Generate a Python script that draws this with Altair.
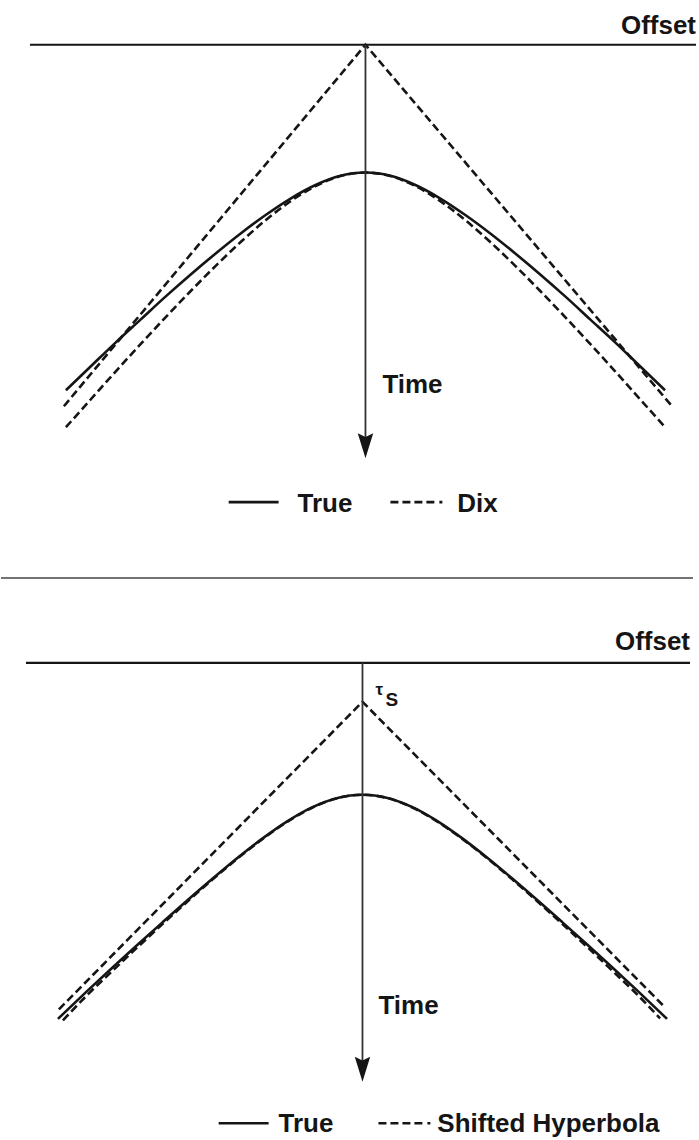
import altair as alt
import pandas as pd

INK = "#151515"
FONT = "Liberation Sans"
DASH = [8, 4]
KEY_DASH = [8, 4, 8, 4, 8, 4, 8, 5, 3, 40]

# ---------------- upper figure: true moveout vs. Dix hyperbola ----------------
top_offsets = [-300, -275, -250, -225, -200, -175, -150, -125, -100, -75, -50, -25,
               0, 25, 50, 75, 100, 125, 150, 175, 200, 225, 250, 275, 300]
top_true = [346, 322, 298, 275, 252, 230, 209, 189, 170.5, 154, 140.5, 131.3,
            128, 131.3, 140.5, 154, 170.5, 189, 209, 230, 252, 275, 298, 322, 346]
top_dix = [383, 355, 327, 299.6, 272.7, 246.6, 221.4, 197.6, 175.7, 156.7, 141.5, 131.5,
           128, 131.5, 141.5, 156.7, 175.7, 197.6, 221.4, 246.6, 272.7, 299.6, 327, 355, 383]
top_asym_offsets = [-302, 0, 307]
top_asym_times = [362, 0, 362]

# ---------------- lower figure: true moveout vs. shifted hyperbola ----------------
bot_true_offsets = [-305, -275, -250, -225, -200, -175, -150, -125, -100, -75, -50, -25,
                    0, 25, 50, 75, 100, 125, 150, 175, 200, 225, 250, 275, 305]
bot_true = [356.5, 328, 304.8, 282, 259.6, 237.5, 216, 195.2, 175.8, 158.5, 144.5, 135.3,
            132, 135.3, 144.5, 158.5, 175.8, 195.2, 216, 237.5, 259.6, 282, 304.8, 328, 356.5]
bot_shift_offsets = [-300, -275, -250, -225, -200, -175, -150, -125, -100, -75, -50, -25,
                     0, 25, 50, 75, 100, 125, 150, 175, 200, 225, 250, 275, 298]
bot_shift = [358, 332, 308.1, 284.5, 261.4, 238.7, 216.8, 195.8, 176.3, 158.9, 144.8, 135.4,
             132, 135.4, 144.8, 158.9, 176.3, 195.8, 216.8, 238.7, 261.4, 284.5, 308.1, 332, 356]
bot_asym_offsets = [-304, 0, 303]
bot_asym_times = [347, 39, 345]
tau_s = 39


def scales(xdom, ydom):
    xs = alt.Scale(domain=xdom, nice=False, zero=False)
    ys = alt.Scale(domain=ydom, nice=False, zero=False, reverse=True)
    return xs, ys


def curve(offsets, times, xs, ys, dash=None, width=2.5, interp="monotone"):
    df = pd.DataFrame({"offset": offsets, "time": times})
    kw = dict(color=INK, strokeWidth=width, interpolate=interp)
    if dash:
        kw["strokeDash"] = dash
    return alt.Chart(df).mark_line(**kw).encode(
        x=alt.X("offset:Q", scale=xs, axis=None),
        y=alt.Y("time:Q", scale=ys, axis=None),
        order="offset:Q",
    )


def hrule(x0, x1, t, xs, ys, width=2.0, dash=None, color=INK):
    df = pd.DataFrame({"x": [x0], "x2": [x1], "t": [t]})
    kw = dict(color=color, strokeWidth=width)
    if dash:
        kw["strokeDash"] = dash
    return alt.Chart(df).mark_rule(**kw).encode(
        x=alt.X("x:Q", scale=xs, axis=None), x2="x2:Q",
        y=alt.Y("t:Q", scale=ys, axis=None),
    )


def vrule(x, t0, t1, xs, ys, width=1.8, color="#333333"):
    df = pd.DataFrame({"x": [x], "t": [t0], "t2": [t1]})
    return alt.Chart(df).mark_rule(color=color, strokeWidth=width).encode(
        x=alt.X("x:Q", scale=xs, axis=None),
        y=alt.Y("t:Q", scale=ys, axis=None), y2="t2:Q",
    )


def head(x, t, xs, ys):
    df = pd.DataFrame({"x": [x], "t": [t]})
    return alt.Chart(df).mark_point(
        shape="M0,1L-0.62,-1L0,-0.7L0.62,-1Z", size=625, filled=True,
        color=INK, opacity=1, strokeWidth=0,
    ).encode(
        x=alt.X("x:Q", scale=xs, axis=None),
        y=alt.Y("t:Q", scale=ys, axis=None),
    )


def label(x, t, text, xs, ys, align="left", size=26, bold=True):
    df = pd.DataFrame({"x": [x], "t": [t], "label": [text]})
    return alt.Chart(df).mark_text(
        align=align, baseline="alphabetic", font=FONT, fontSize=size,
        fontWeight="bold" if bold else "normal", color=INK,
    ).encode(
        x=alt.X("x:Q", scale=xs, axis=None),
        y=alt.Y("t:Q", scale=ys, axis=None),
        text="label:N",
    )


# upper panel: offset axis origin at x=365 px, time origin at y=44 px
xs, ys = scales([-365, 334], [-44, 536])
top = alt.layer(
    hrule(-336, 331, 0, xs, ys, width=2.2),
    label(331, -11, "Offset", xs, ys, align="right"),
    curve(top_asym_offsets, top_asym_times, xs, ys, dash=DASH, width=2.6, interp="linear"),
    curve(top_offsets, top_dix, xs, ys, dash=DASH, width=2.6),
    curve(top_offsets, top_true, xs, ys, width=2.6),
    vrule(0, 0, 395, xs, ys),
    head(0, 401.5, xs, ys),
    label(17, 349, "Time", xs, ys),
    hrule(-137, -87, 458, xs, ys, width=2.6),
    label(-68, 468, "True", xs, ys),
    hrule(25, 77, 458, xs, ys, width=2.6, dash=KEY_DASH),
    label(92, 468, "Dix", xs, ys),
    hrule(-365, 328, 534, xs, ys, width=1.6, color="#444444"),
).properties(width=699, height=580)

# lower panel: offset axis origin at x=362 px, time origin at y=663 px
xs2, ys2 = scales([-362, 337], [-83, 477])
bottom = alt.layer(
    hrule(-337, 328, 0, xs2, ys2, width=2.2),
    label(328, -13, "Offset", xs2, ys2, align="right"),
    curve(bot_asym_offsets, bot_asym_times, xs2, ys2, dash=DASH, width=2.6, interp="linear"),
    curve(bot_shift_offsets, bot_shift, xs2, ys2, dash=DASH, width=2.6),
    curve(bot_true_offsets, bot_true, xs2, ys2, width=2.6),
    vrule(0, 0, 400, xs2, ys2),
    head(0, 407, xs2, ys2),
    label(13, tau_s - 7, "τ", xs2, ys2, size=17),
    label(23, tau_s + 4, "S", xs2, ys2, size=19),
    label(16, 352, "Time", xs2, ys2),
    hrule(-144, -94, 461, xs2, ys2, width=2.6),
    label(-84, 470, "True", xs2, ys2),
    hrule(16, 70, 461, xs2, ys2, width=2.6, dash=KEY_DASH),
    label(75, 470, "Shifted Hyperbola", xs2, ys2),
).properties(width=699, height=560)

chart = (
    alt.vconcat(top, bottom, spacing=0)
    .properties(padding=0)
    .configure(background="white")
    .configure_view(stroke=None, strokeWidth=0)
)

chart.save("out.html", embed_options={"renderer": "svg", "actions": False})
